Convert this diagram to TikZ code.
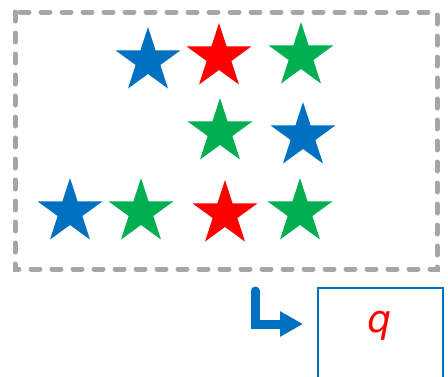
\documentclass[tikz,border=0pt]{standalone}
\usepackage{fontspec}
\newfontfamily\qfont{DejaVu Sans}
\usetikzlibrary{shapes.geometric,arrows.meta}
\definecolor{sblue}{HTML}{0070C0}
\definecolor{sred}{HTML}{FF0000}
\definecolor{sgreen}{HTML}{00B050}
\definecolor{dgray}{HTML}{A6A6A6}
\tikzset{
  starshape/.style={star, star points=5, star point ratio=2.618, inner sep=0pt, outer sep=0pt, minimum size=68pt, draw=none},
  bstar/.style={starshape, fill=sblue},
  rstar/.style={starshape, fill=sred},
  gstar/.style={starshape, fill=sgreen},
}
\begin{document}
\begin{tikzpicture}[x=1pt,y=-1pt]
\useasboundingbox (0,0) rectangle (448,376);
\clip (0,0) rectangle (448,376);
\draw[dgray, line width=5pt, dash pattern=on 9pt off 12pt, line cap=round] (15,12) rectangle (437,269);
\node[bstar] (s1) at (148,61) {};
\node[rstar] (s2) at (219,57) {};
\node[gstar] (s3) at (301,56) {};
\node[gstar] (s4) at (220,132) {};
\node[bstar] (s5) at (303,136) {};
\node[bstar] (s6) at (70,212) {};
\node[gstar] (s7) at (141,212) {};
\node[rstar] (s8) at (225,214) {};
\node[gstar] (s9) at (300,212) {};
\draw[sblue, line width=1.5pt] (318,288) rectangle (443,385);
\node[text=sred, font=\qfont\itshape\fontsize{38}{40}\selectfont, inner sep=0pt] (q) at (380,326) {q};
\coordinate (astart) at (255,291);
\coordinate (aend) at (303,324);
\draw[sblue, line width=9pt, line cap=round, -{Triangle[length=23pt,width=24pt]}] (astart) |- (aend);
\end{tikzpicture}
\end{document}
